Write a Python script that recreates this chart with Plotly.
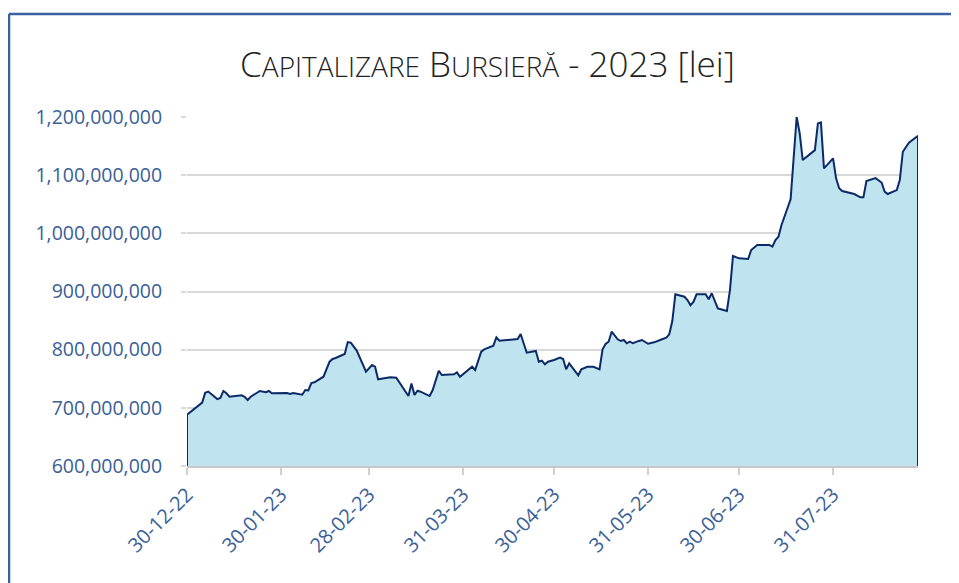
import plotly.graph_objects as go

dates = [
    "2022-12-30", "2023-01-04", "2023-01-05", "2023-01-06", "2023-01-09", "2023-01-10",
    "2023-01-11", "2023-01-12", "2023-01-13", "2023-01-16", "2023-01-17", "2023-01-18",
    "2023-01-19", "2023-01-20", "2023-01-23", "2023-01-25", "2023-01-26", "2023-01-27",
    "2023-01-30", "2023-02-01", "2023-02-02", "2023-02-03", "2023-02-06", "2023-02-07",
    "2023-02-08", "2023-02-09", "2023-02-10", "2023-02-13", "2023-02-15", "2023-02-16",
    "2023-02-17", "2023-02-20", "2023-02-21", "2023-02-22", "2023-02-24", "2023-02-27",
    "2023-03-01", "2023-03-02", "2023-03-03", "2023-03-07", "2023-03-09", "2023-03-13",
    "2023-03-14", "2023-03-15", "2023-03-16", "2023-03-17", "2023-03-20", "2023-03-21",
    "2023-03-23", "2023-03-24", "2023-03-28", "2023-03-29", "2023-03-30", "2023-04-03",
    "2023-04-04", "2023-04-06", "2023-04-07", "2023-04-10", "2023-04-11", "2023-04-12",
    "2023-04-18", "2023-04-19", "2023-04-21", "2023-04-24", "2023-04-25", "2023-04-26",
    "2023-04-27", "2023-04-28", "2023-04-30", "2023-05-02", "2023-05-03", "2023-05-04",
    "2023-05-05", "2023-05-08", "2023-05-09", "2023-05-11", "2023-05-13", "2023-05-15",
    "2023-05-16", "2023-05-17", "2023-05-18", "2023-05-19", "2023-05-21", "2023-05-22",
    "2023-05-23", "2023-05-24", "2023-05-25", "2023-05-26", "2023-05-28", "2023-05-29",
    "2023-05-31", "2023-06-02", "2023-06-04", "2023-06-06", "2023-06-07", "2023-06-08",
    "2023-06-09", "2023-06-12", "2023-06-13", "2023-06-14", "2023-06-15", "2023-06-16",
    "2023-06-19", "2023-06-20", "2023-06-21", "2023-06-23", "2023-06-24", "2023-06-26",
    "2023-06-27", "2023-06-28", "2023-06-30", "2023-07-03", "2023-07-04", "2023-07-06",
    "2023-07-10", "2023-07-11", "2023-07-12", "2023-07-13", "2023-07-14", "2023-07-17",
    "2023-07-19", "2023-07-20", "2023-07-21", "2023-07-25", "2023-07-26", "2023-07-27",
    "2023-07-28", "2023-07-31", "2023-08-01", "2023-08-02", "2023-08-03", "2023-08-07",
    "2023-08-09", "2023-08-10", "2023-08-11", "2023-08-14", "2023-08-16", "2023-08-17",
    "2023-08-18", "2023-08-21", "2023-08-22", "2023-08-23", "2023-08-25", "2023-08-28",
]

# market capitalisation, millions of lei
cap_mil = [
    688, 709, 726, 728, 715, 717,
    729, 725, 719, 720, 721.5, 719,
    713.5, 719, 729, 727, 729, 725,
    726, 725.5, 724, 725.5, 722.6, 730.6,
    730, 742.7, 743.9, 753.5, 779.3, 784,
    785.7, 792.5, 813, 812, 798, 762,
    773.6, 770.7, 749, 752.5, 751.8, 720.3,
    742, 722, 729.4, 727.7, 720.3, 730.6,
    763.8, 756.4, 757.6, 761, 753.5, 770.7,
    765, 796.5, 800.5, 806.8, 821.2, 815.4,
    818.3, 827, 794.8, 797.7, 779.3, 781,
    774.8, 779.3, 782.2, 786.2, 784, 766.2,
    776.5, 755.9, 766.2, 770.7, 770.7, 766.2,
    800.6, 809.7, 813.7, 830.9, 817.8, 814.9,
    816.6, 811, 813.7, 811, 815, 816.6,
    810.2, 812.6, 816.6, 820.5, 826.4, 849.3,
    895.2, 891, 885.4, 876.2, 882.4, 895.2,
    895.2, 886.6, 897, 871, 869.5, 866.5,
    902.5, 961, 957, 955.8, 971.3, 980,
    980, 977, 988.5, 994.2, 1014.3, 1058.5,
    1200, 1171.8, 1126, 1143, 1189, 1190.7,
    1111.7, 1129, 1094.6, 1077.4, 1072.7, 1067.6,
    1061.9, 1061.9, 1089.9, 1095, 1087.3, 1071.8,
    1067.6, 1074.4, 1091.6, 1140.3, 1156, 1167.8,
]
values = [v * 1_000_000 for v in cap_mil]

tick_dates = ["2022-12-30", "2023-01-30", "2023-02-28", "2023-03-31",
              "2023-04-30", "2023-05-31", "2023-06-30", "2023-07-31"]
tick_labels = ["30-12-22", "30-01-23", "28-02-23", "31-03-23",
               "30-04-23", "31-05-23", "30-06-23", "31-07-23"]

y_ticks = [600e6, 700e6, 800e6, 900e6, 1000e6, 1100e6, 1200e6]
y_labels = ["600,000,000", "700,000,000", "800,000,000", "900,000,000",
            "1,000,000,000", "1,100,000,000", "1,200,000,000"]

label_color = "#3a6098"
font_family = "Open Sans, Noto Sans, sans-serif"

fig = go.Figure()
fig.add_trace(go.Scatter(
    x=dates, y=values, mode="lines",
    line=dict(color="#0b2a66", width=2),
    fill="tozeroy", fillcolor="#bfe4f0",
    hoverinfo="x+y",
))
fig.add_trace(go.Scatter(
    x=[dates[-1], dates[-1]], y=[600e6, values[-1]], mode="lines",
    line=dict(color="#0b2a66", width=2), hoverinfo="skip", showlegend=False,
))
fig.add_trace(go.Scatter(
    x=[dates[0], dates[0]], y=[600e6, values[0]], mode="lines",
    line=dict(color="#0b2a66", width=2), hoverinfo="skip", showlegend=False,
))

sc = "font-size:28px"
title_text = (f"C<span style='{sc}'>APITALIZARE</span> B<span style='{sc}'>URSIERĂ</span>"
              " - 2023 [lei]")

fig.update_layout(
    width=959, height=583,
    margin=dict(l=179, r=49, t=109, b=125),
    paper_bgcolor="white", plot_bgcolor="white",
    showlegend=False,
    title=dict(text=title_text, x=0.5, xref="container", xanchor="center",
               y=1 - 57 / 583, yanchor="middle",
               font=dict(family=font_family, size=35, color="#222222", weight=300)),
    xaxis=dict(
        type="date", range=["2022-12-30", "2023-08-28"],
        tickmode="array", tickvals=tick_dates, ticktext=tick_labels,
        tickangle=-45, tickfont=dict(family=font_family, size=20, color=label_color),
        showgrid=False, showline=True, linecolor="#c8c8c8", linewidth=2,
        ticks="outside", ticklen=7, tickcolor="#d0d0d0", tickwidth=2,
        zeroline=False,
    ),
    yaxis=dict(
        range=[600e6, 1200e6],
        tickmode="array", tickvals=y_ticks, ticktext=y_labels,
        tickfont=dict(family=font_family, size=19.5, color=label_color),
        showgrid=True, gridcolor="#d9d9d9", gridwidth=2,
        ticks="outside", ticklen=5, tickcolor="#d9d9d9", tickwidth=2,
        ticklabelstandoff=15,
        showline=False, zeroline=False,
    ),
    shapes=[
        dict(type="line", xref="paper", yref="paper",
             x0=(9 - 187) / 731, x1=(9 - 187) / 731,
             y0=(466 - 14) / 349, y1=-0.5,
             line=dict(color="#3a62a0", width=2.5)),
        dict(type="line", xref="paper", yref="paper",
             x0=(9 - 187) / 731, x1=1.2,
             y0=(466 - 14) / 349, y1=(466 - 14) / 349,
             line=dict(color="#3a62a0", width=2.5)),
    ],
)

fig.write_html("out.html")
